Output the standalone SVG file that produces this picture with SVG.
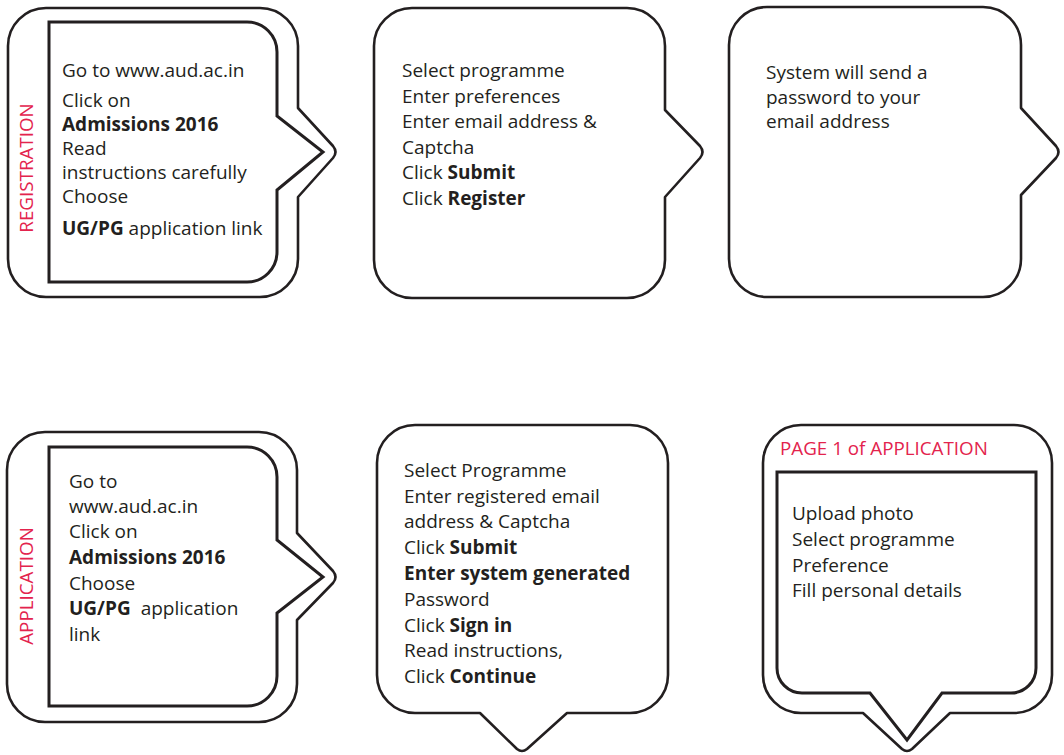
<svg xmlns="http://www.w3.org/2000/svg" width="1064" height="755" viewBox="0 0 1064 755">
<style>
.outer{fill:#fff;stroke:#231f20;stroke-width:2.6;stroke-linejoin:round}
.inner{fill:#fff;stroke:#231f20;stroke-width:3;stroke-linejoin:miter}
.t{font-family:"Open Sans","Liberation Sans",Arial,sans-serif;font-size:19px;fill:#231f20}
.b{font-weight:bold}
.red{font-family:"Open Sans","Liberation Sans",Arial,sans-serif;font-size:18.8px;fill:#e3234d}
</style>
<rect width="1064" height="755" fill="#fff"/>

<g id="registration">
<path class="outer" d="M46,8 H260 A38,38 0 0 1 298,46 V108 L333,146 Q338,152 333,158 L298,197 V259 A38,38 0 0 1 260,297 H46 A38,38 0 0 1 8,259 V46 A38,38 0 0 1 46,8 Z"/>
<path class="inner" d="M49,22 H247 A30,30 0 0 1 277,52 V116 L323,152 L277,190 V252 A30,30 0 0 1 247,282 H49 Z"/>
<text class="red" transform="translate(33,168) rotate(-90)" text-anchor="middle">REGISTRATION</text>
<text class="t" x="62" y="77">Go to www.aud.ac.in</text>
<text class="t" x="62" y="107">Click on</text>
<text class="t b" x="62" y="131">Admissions 2016</text>
<text class="t" x="62" y="155">Read</text>
<text class="t" x="62" y="179">instructions carefully</text>
<text class="t" x="62" y="203">Choose</text>
<text class="t" x="62" y="235"><tspan class="b">UG/PG</tspan> application link</text>
</g>

<g id="register-form">
<path class="outer" d="M412,8 H627 A38,38 0 0 1 665,46 V110 L700,146 Q705,152 700,158 L665,197 V260 A38,38 0 0 1 627,298 H412 A38,38 0 0 1 374,260 V46 A38,38 0 0 1 412,8 Z"/>
<text class="t" x="402" y="77">Select programme</text>
<text class="t" x="402" y="102.5">Enter preferences</text>
<text class="t" x="402" y="128">Enter email address &amp;</text>
<text class="t" x="402" y="153.5">Captcha</text>
<text class="t" x="402" y="179">Click <tspan class="b">Submit</tspan></text>
<text class="t" x="402" y="204.5">Click <tspan class="b">Register</tspan></text>
</g>

<g id="password-sent">
<path class="outer" d="M767,7 H983 A38,38 0 0 1 1021,45 V108 L1056,146 Q1061,152 1056,158 L1021,195 V259 A38,38 0 0 1 983,297 H767 A38,38 0 0 1 729,259 V45 A38,38 0 0 1 767,7 Z"/>
<text class="t" x="766" y="79">System will send a</text>
<text class="t" x="766" y="104">password to your</text>
<text class="t" x="766" y="128">email address</text>
</g>

<g id="application">
<path class="outer" d="M45,432 H259 A38,38 0 0 1 297,470 V533 L333,571 Q338,577 333,583 L297,620 V684 A38,38 0 0 1 259,722 H45 A38,38 0 0 1 7,684 V470 A38,38 0 0 1 45,432 Z"/>
<path class="inner" d="M49,447 H247 A30,30 0 0 1 277,477 V540 L323,577 L277,613 V676 A30,30 0 0 1 247,706 H49 Z"/>
<text class="red" transform="translate(33,586) rotate(-90)" text-anchor="middle">APPLICATION</text>
<text class="t" x="69" y="488">Go to</text>
<text class="t" x="69" y="513">www.aud.ac.in</text>
<text class="t" x="69" y="538">Click on</text>
<text class="t b" x="69" y="564">Admissions 2016</text>
<text class="t" x="69" y="590">Choose</text>
<text class="t" x="69" y="615"><tspan class="b">UG/PG</tspan><tspan dx="10">application</tspan></text>
<text class="t" x="69" y="641">link</text>
</g>

<g id="sign-in">
<path class="outer" d="M415,425 H630 A38,38 0 0 1 668,463 V675 A38,38 0 0 1 630,713 H567 L527,749 Q522,753 517,749 L480,713 H415 A38,38 0 0 1 377,675 V463 A38,38 0 0 1 415,425 Z"/>
<text class="t" x="404" y="477">Select Programme</text>
<text class="t" x="404" y="503">Enter registered email</text>
<text class="t" x="404" y="528">address &amp; Captcha</text>
<text class="t" x="404" y="554">Click <tspan class="b">Submit</tspan></text>
<text class="t b" x="404" y="580">Enter system generated</text>
<text class="t" x="404" y="606">Password</text>
<text class="t" x="404" y="632">Click <tspan class="b">Sign in</tspan></text>
<text class="t" x="404" y="657">Read instructions,</text>
<text class="t" x="404" y="683">Click <tspan class="b">Continue</tspan></text>
</g>

<g id="page1">
<path class="outer" d="M801,425 H1014 A38,38 0 0 1 1052,463 V675 A38,38 0 0 1 1014,713 H950 L912,749 Q907,753 902,749 L863,713 H801 A38,38 0 0 1 763,675 V463 A38,38 0 0 1 801,425 Z"/>
<path class="inner" d="M777,472 H1036 V668 A25,25 0 0 1 1011,693 H942 L907,740 L870,693 H802 A25,25 0 0 1 777,668 Z"/>
<text class="red" x="780" y="455">PAGE 1 of APPLICATION</text>
<text class="t" x="792" y="520">Upload photo</text>
<text class="t" x="792" y="546">Select programme</text>
<text class="t" x="792" y="572">Preference</text>
<text class="t" x="792" y="597">Fill personal details</text>
</g>
</svg>
